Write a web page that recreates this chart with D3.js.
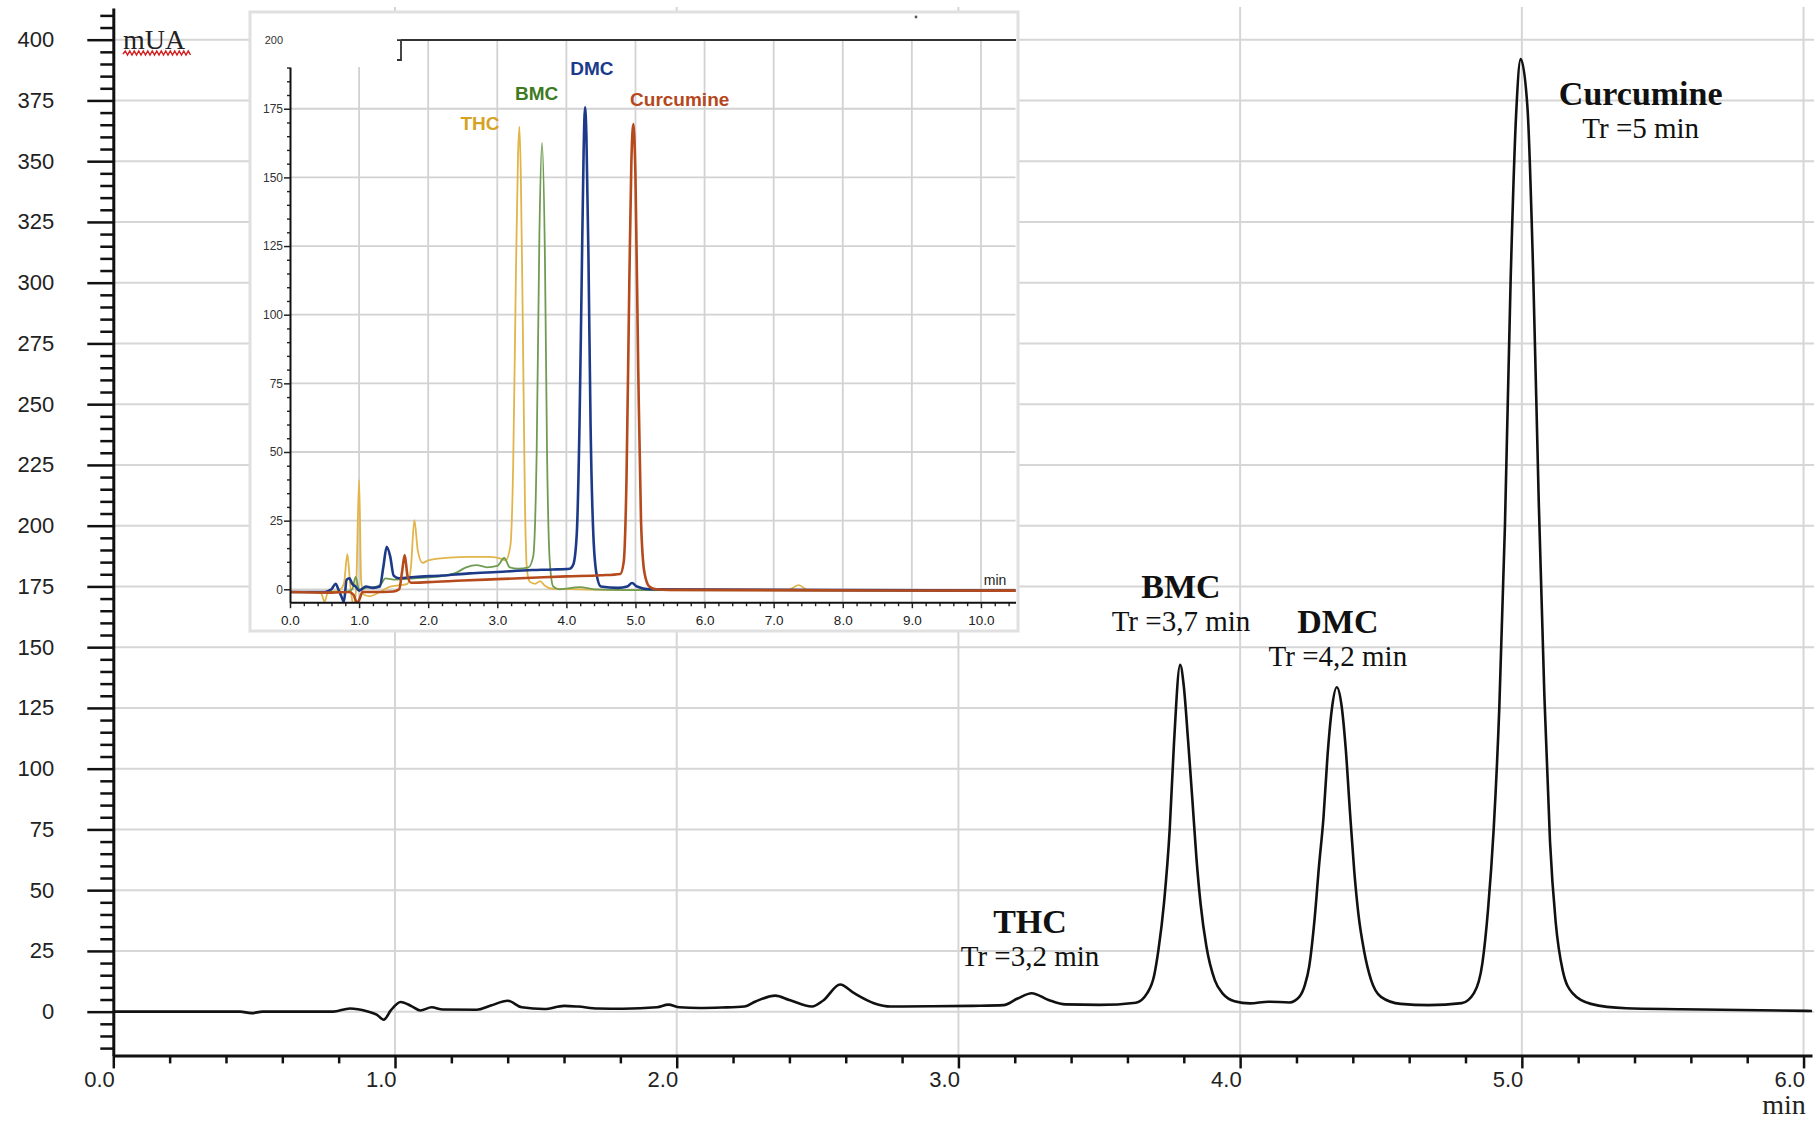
<!DOCTYPE html>
<html><head><meta charset="utf-8">
<script src="https://cdn.jsdelivr.net/npm/d3@7"></script>
<style>html,body{margin:0;padding:0;background:#fff;} svg{display:block;}</style>
</head><body>
<svg id="c" width="1814" height="1122"></svg>
<script>
// ---------------- DATA ----------------
const mainYTicks = [0,25,50,75,100,125,150,175,200,225,250,275,300,325,350,375,400];
const mainXTicks = [0,1,2,3,4,5,6];
const mainYLabel = "mUA";
const mainXLabel = "min";
const peakNames = ["THC","BMC","DMC","Curcumine"];
const peakTr = ["Tr =3,2 min","Tr =3,7 min","Tr =4,2 min","Tr =5 min"];
// main chromatogram: [time (min), absorbance (mUA)]
const mainTrace = [
[0.00,0],[0.45,0],[0.49,-0.6],[0.53,0],[0.78,0],[0.84,1.3],[0.90,0.2],[0.935,-1.2],[0.96,-3.3],[0.985,0.5],
[1.02,4.0],[1.06,2.2],[1.09,0.5],[1.13,1.8],[1.17,0.9],[1.29,0.8],[1.34,2.5],[1.40,4.5],[1.45,1.8],[1.53,1.1],
[1.60,2.4],[1.65,2.1],[1.72,1.3],[1.81,1.2],[1.93,1.8],[1.97,2.9],[2.01,1.8],[2.08,1.5],[2.16,1.7],[2.24,2.1],
[2.28,4.2],[2.35,6.6],[2.40,4.8],[2.48,2.1],[2.52,4.6],[2.58,11.2],[2.63,7.6],[2.70,3.5],[2.76,2.1],[2.90,2.2],
[3.05,2.4],[3.16,2.7],[3.21,5.4],[3.26,7.6],[3.32,4.8],[3.38,3.0],[3.50,2.8],[3.63,3.7],[3.67,7.6],[3.695,15],
[3.71,25.4],[3.73,45],[3.75,75],[3.765,110],[3.787,142.7],[3.80,134],[3.815,112],[3.83,88],[3.845,63],[3.86,44],
[3.88,27],[3.91,13],[3.94,7.2],[3.98,4.3],[4.035,3.4],[4.10,4.1],[4.175,3.8],[4.21,6.1],[4.23,11],[4.245,18.5],
[4.265,39],[4.28,60],[4.296,80],[4.31,105],[4.325,124],[4.343,133.5],[4.36,126],[4.375,108],[4.39,82],[4.405,58],
[4.42,40],[4.44,25],[4.465,13],[4.50,6.1],[4.57,3.2],[4.67,2.7],[4.787,3.5],[4.83,7.6],[4.86,20],[4.88,42],
[4.90,75],[4.92,125],[4.94,200],[4.96,300],[4.98,370],[4.996,392],[5.02,372],[5.04,305],[5.06,210],[5.08,130],
[5.10,70],[5.12,37],[5.145,17],[5.18,7.6],[5.245,3.2],[5.37,1.4],[5.566,1.0],[6.03,0.3]
];
// inset (overlay of the four standards)
const insetYTicks = [0,25,50,75,100,125,150,175];
const insetXTicks = [0,1,2,3,4,5,6,7,8,9,10];
const insetNames = ["THC","BMC","DMC","Curcumine"];
const insetTHC = [
[0,-1],[0.3,-1],[0.45,-1.5],[0.5,-4.5],[0.55,-1],[0.7,-0.5],[0.78,2],[0.83,12.8],[0.87,2],[0.9,-4],[0.93,-6],[0.96,2],
[1.0,39.8],[1.03,3],[1.07,-2],[1.15,-2.5],[1.3,-1],[1.45,1],[1.6,1.5],[1.7,2],[1.75,8],[1.80,25.2],[1.85,14],[1.92,9.6],
[2.0,10.5],[2.3,11.5],[2.6,11.8],[2.9,11.8],[3.05,11.2],[3.12,10.5],[3.19,16],[3.23,45],[3.27,115],[3.30,158],[3.32,168.5],
[3.34,152],[3.37,95],[3.40,32],[3.43,7],[3.47,2.8],[3.55,2],[3.62,3],[3.68,1.5],[3.8,0.2],[4.2,0],[5,-0.3],[7.2,-0.3],
[7.36,1.5],[7.5,-0.3],[10.5,-0.5]
];
const insetBMC = [
[0,-1],[0.8,-1],[0.9,0],[0.95,4.5],[1.0,0],[1.1,0.5],[1.25,1],[1.32,2],[1.38,4],[1.5,3.5],[1.8,4],[2.1,4.5],[2.4,6],
[2.55,8],[2.7,8.8],[2.85,8],[3.0,8.5],[3.1,11.4],[3.18,8],[3.3,7.5],[3.45,8],[3.52,12],[3.57,50],[3.61,130],[3.647,162.6],
[3.69,120],[3.72,50],[3.76,10],[3.81,1],[3.9,0],[4.2,0.8],[4.4,0],[5,-0.3],[10.5,-0.5]
];
const insetDMC = [
[0,-1],[0.5,-1],[0.6,0],[0.66,2],[0.7,0],[0.75,-3],[0.78,-4.5],[0.82,3.5],[0.86,4],[0.9,2],[0.95,1],[1.0,-0.5],[1.1,1],
[1.2,0.5],[1.3,1],[1.35,8],[1.40,15.5],[1.45,12],[1.5,5],[1.58,4],[1.8,4.5],[2.2,5],[2.6,5.8],[3.0,6.3],[3.5,7],[3.8,7.2],
[4.05,7.5],[4.10,9],[4.15,20],[4.19,60],[4.22,110],[4.25,160],[4.27,175.5],[4.29,165],[4.32,120],[4.35,60],[4.39,20],
[4.44,5],[4.5,1],[4.75,0.5],[4.88,1],[4.95,2.3],[5.02,1],[5.2,0],[10.5,-0.5]
];
const insetCUR = [
[0,-1],[0.6,-1.2],[0.85,-1],[0.92,-2],[0.97,-5],[1.0,-4],[1.05,-1],[1.2,-1],[1.5,-0.8],[1.58,0],[1.62,6],[1.66,12.5],
[1.7,5],[1.75,2.4],[2.0,2.6],[2.5,3.2],[3.0,3.7],[3.5,4.2],[4.0,4.7],[4.5,5.1],[4.78,5.6],[4.83,10],[4.87,40],[4.91,110],
[4.94,155],[4.97,169.4],[5.0,150],[5.04,80],[5.08,25],[5.13,6],[5.2,1],[5.3,0],[5.5,-0.2],[10.5,-0.5]
];

// ---------------- LAYOUT / STYLE ----------------
const W = 1814, H = 1122;
const svg = d3.select("#c");
const x = d3.scaleLinear().domain([0, 6.03]).range([113.3, 1812]);
const y = d3.scaleLinear().domain([-18, 413]).range([1055.4, 8.1]);
const grid = "#d6d6d6";

// main gridlines
svg.append("g").selectAll("line").data(mainYTicks).join("line")
  .attr("x1", 113).attr("x2", W).attr("y1", d => y(d)).attr("y2", d => y(d))
  .attr("stroke", grid).attr("stroke-width", 2);
svg.append("g").selectAll("line").data(mainXTicks.filter(d => d > 0)).join("line")
  .attr("x1", d => x(d)).attr("x2", d => x(d)).attr("y1", 7).attr("y2", 1055)
  .attr("stroke", grid).attr("stroke-width", 2);

// main trace
const line = d3.line().x(d => x(d[0])).y(d => y(d[1])).curve(d3.curveMonotoneX);
svg.append("path").datum(mainTrace).attr("d", line)
  .attr("fill", "none").attr("stroke", "#111").attr("stroke-width", 2.6).attr("stroke-linejoin", "round");

// main axes
const minorY = d3.range(-15, 411, 5).filter(v => v % 25 !== 0);
svg.append("g").attr("transform", "translate(113.3,0)")
  .call(d3.axisLeft(y).tickValues(minorY).tickSize(13).tickSizeOuter(0).tickFormat(""))
  .call(g => g.select(".domain").remove())
  .call(g => g.selectAll("line").attr("stroke", "#111").attr("stroke-width", 2.5));
svg.append("g").attr("transform", "translate(113.3,0)")
  .call(d3.axisLeft(y).tickValues(mainYTicks).tickSize(26).tickSizeOuter(0).tickPadding(33))
  .call(g => g.select(".domain").attr("stroke", "#111").attr("stroke-width", 3))
  .call(g => g.selectAll("line").attr("stroke", "#111").attr("stroke-width", 2.5))
  .call(g => g.selectAll("text").attr("font-family", "'Liberation Sans', Arial, sans-serif")
      .attr("font-size", 22).attr("fill", "#222"));
const minorX = d3.range(0, 6.03, 0.2).filter(v => Math.abs(v - Math.round(v)) > 0.01);
svg.append("g").attr("transform", "translate(0,1055.4)")
  .call(d3.axisBottom(x).tickValues(minorX).tickSize(8).tickSizeOuter(0).tickFormat(""))
  .call(g => g.select(".domain").remove())
  .call(g => g.selectAll("line").attr("stroke", "#111").attr("stroke-width", 2.5));
svg.append("g").attr("transform", "translate(0,1055.4)")
  .call(d3.axisBottom(x).tickValues(mainXTicks).tickSize(13).tickSizeOuter(0).tickFormat(d3.format(".1f")))
  .call(g => g.select(".domain").attr("stroke", "#111").attr("stroke-width", 3))
  .call(g => g.selectAll("line").attr("stroke", "#111").attr("stroke-width", 2.5))
  .call(g => g.selectAll("text").attr("font-family", "'Liberation Sans', Arial, sans-serif")
      .attr("font-size", 22).attr("fill", "#222").attr("text-anchor", "end")
      .attr("y", 32).attr("dy", 0).attr("dx", 1));

// axis unit labels
const serif = "'Liberation Serif', 'Times New Roman', serif";
svg.append("text").attr("x", 123).attr("y", 49).text(mainYLabel)
  .attr("font-family", serif).attr("font-size", 28).attr("fill", "#222");
// spell-check squiggle under mUA
{
  let p = "M123,54";
  for (let xx = 123; xx < 190; xx += 4.5) p += ` L${xx + 2.25},${51} L${xx + 4.5},${55}`;
  svg.append("path").attr("d", p).attr("fill", "none").attr("stroke", "#d42020").attr("stroke-width", 1.4);
}
svg.append("text").attr("x", 1784).attr("y", 1114).attr("text-anchor", "middle").text(mainXLabel)
  .attr("font-family", serif).attr("font-size", 28).attr("fill", "#222");

// peak annotations (anchor in data units)
const annot = [
  {t: 3.254, v: 32.5, dv: -13.6},
  {t: 3.790, v: 170.2, dv: -13.4},
  {t: 4.347, v: 155.8, dv: -13.4},
  {t: 5.422, v: 373, dv: -13.4}
];
annot.forEach((a, i) => {
  svg.append("text").attr("x", x(a.t)).attr("y", y(a.v)).attr("text-anchor", "middle")
    .attr("font-family", serif).attr("font-size", 34).attr("font-weight", "bold").attr("fill", "#111")
    .text(peakNames[i]);
  svg.append("text").attr("x", x(a.t)).attr("y", y(a.v + a.dv)).attr("text-anchor", "middle")
    .attr("font-family", serif).attr("font-size", 29).attr("fill", "#111")
    .text(peakTr[i]);
});

// ---------------- INSET ----------------
const inset = svg.append("g");
inset.append("rect").attr("x", 250).attr("y", 12).attr("width", 768).attr("height", 619)
  .attr("fill", "#fff").attr("stroke", "#e0e0e0").attr("stroke-width", 3);
const xi = d3.scaleLinear().domain([0, 10.5]).range([290, 1015.5]);
const yi = d3.scaleLinear().domain([-4.7, 190.2]).range([602.2, 67]);
const igrid = "#d2d2d2";
inset.append("g").selectAll("line").data(insetYTicks).join("line")
  .attr("x1", 290).attr("x2", 1015.5).attr("y1", d => yi(d)).attr("y2", d => yi(d))
  .attr("stroke", igrid).attr("stroke-width", 1.8);
inset.append("g").selectAll("line").data(insetXTicks.filter(d => d > 0)).join("line")
  .attr("x1", d => xi(d)).attr("x2", d => xi(d)).attr("y1", d => xi(d) > 401 ? yi(200) : 67).attr("y2", 602)
  .attr("stroke", igrid).attr("stroke-width", 1.8);
// top 200 line with bracket
inset.append("line").attr("x1", 401).attr("x2", 1016).attr("y1", yi(200)).attr("y2", yi(200))
  .attr("stroke", "#333").attr("stroke-width", 2);
inset.append("path").attr("d", `M397,${yi(200)} L401,${yi(200)} L401,60 L397,60`)
  .attr("fill", "none").attr("stroke", "#333").attr("stroke-width", 1.8);
inset.append("text").attr("x", 283).attr("y", yi(200)).attr("dy", "0.32em").attr("text-anchor", "end")
  .attr("font-family", "'Liberation Sans', Arial, sans-serif").attr("font-size", 11).attr("fill", "#333").text("200");
inset.append("circle").attr("cx", 916).attr("cy", 17).attr("r", 1.4).attr("fill", "#555");

// inset traces
inset.append("clipPath").attr("id", "iclip").append("rect")
  .attr("x", 290).attr("y", 40).attr("width", 726).attr("height", 562);
const iline = d3.line().x(d => xi(d[0])).y(d => yi(d[1])).curve(d3.curveMonotoneX);
const insetSeries = [insetTHC, insetBMC, insetDMC, insetCUR];
const insetColors = ["#e2b54a", "#6f9c52", "#1c3a88", "#b54a1c"];
const insetWidths = [1.8, 1.8, 2.6, 2.6];
const tg = inset.append("g").attr("clip-path", "url(#iclip)");
insetSeries.forEach((s, i) => {
  tg.append("path").datum(s).attr("d", iline).attr("fill", "none")
    .attr("stroke", insetColors[i]).attr("stroke-width", insetWidths[i]).attr("stroke-linejoin", "round");
});

// inset axes
const iMinorY = d3.range(-0, 191, 5).filter(v => v % 25 !== 0);
inset.append("g").attr("transform", "translate(290,0)")
  .call(d3.axisLeft(yi).tickValues(iMinorY).tickSize(3).tickSizeOuter(0).tickFormat(""))
  .call(g => g.select(".domain").remove())
  .call(g => g.selectAll("line").attr("stroke", "#222").attr("stroke-width", 1.4));
inset.append("g").attr("transform", "translate(290,0)")
  .call(d3.axisLeft(yi).tickValues(insetYTicks).tickSize(6).tickSizeOuter(0).tickPadding(1))
  .call(g => g.select(".domain").attr("stroke", "#111").attr("stroke-width", 2))
  .call(g => g.selectAll("line").attr("stroke", "#222").attr("stroke-width", 1.5))
  .call(g => g.selectAll("text").attr("font-family", "'Liberation Sans', Arial, sans-serif")
      .attr("font-size", 12).attr("fill", "#333"));
const iMinorX = d3.range(0, 10.5, 0.2).filter(v => Math.abs(v - Math.round(v)) > 0.01);
inset.append("g").attr("transform", "translate(0,602.2)")
  .call(d3.axisBottom(xi).tickValues(iMinorX).tickSize(4).tickSizeOuter(0).tickFormat(""))
  .call(g => g.select(".domain").remove())
  .call(g => g.selectAll("line").attr("stroke", "#222").attr("stroke-width", 1.4));
inset.append("g").attr("transform", "translate(0,602.2)")
  .call(d3.axisBottom(xi).tickValues(insetXTicks).tickSize(6).tickSizeOuter(0).tickFormat(d3.format(".1f")))
  .call(g => g.select(".domain").attr("stroke", "#111").attr("stroke-width", 2))
  .call(g => g.selectAll("line").attr("stroke", "#222").attr("stroke-width", 1.5))
  .call(g => g.selectAll("text").attr("font-family", "'Liberation Sans', Arial, sans-serif")
      .attr("font-size", 13.5).attr("fill", "#222").attr("y", 23).attr("dy", 0));
inset.append("text").attr("x", 995).attr("y", 585).attr("text-anchor", "middle").text("min")
  .attr("font-family", "'Liberation Sans', Arial, sans-serif").attr("font-size", 14).attr("fill", "#222");

// inset peak labels (anchored in data units)
const insetLabelPos = [[2.75, 167.3], [3.57, 178.2], [4.37, 187.3], [5.64, 176]];
const insetLabelColors = ["#d7a224", "#3d7a22", "#1a3a8c", "#b5471d"];
insetNames.forEach((n, i) => {
  inset.append("text").attr("x", xi(insetLabelPos[i][0])).attr("y", yi(insetLabelPos[i][1]))
    .attr("text-anchor", "middle").attr("font-family", "'Liberation Sans', Arial, sans-serif")
    .attr("font-size", 19).attr("font-weight", "bold").attr("fill", insetLabelColors[i]).text(n);
});
</script>
</body></html>
